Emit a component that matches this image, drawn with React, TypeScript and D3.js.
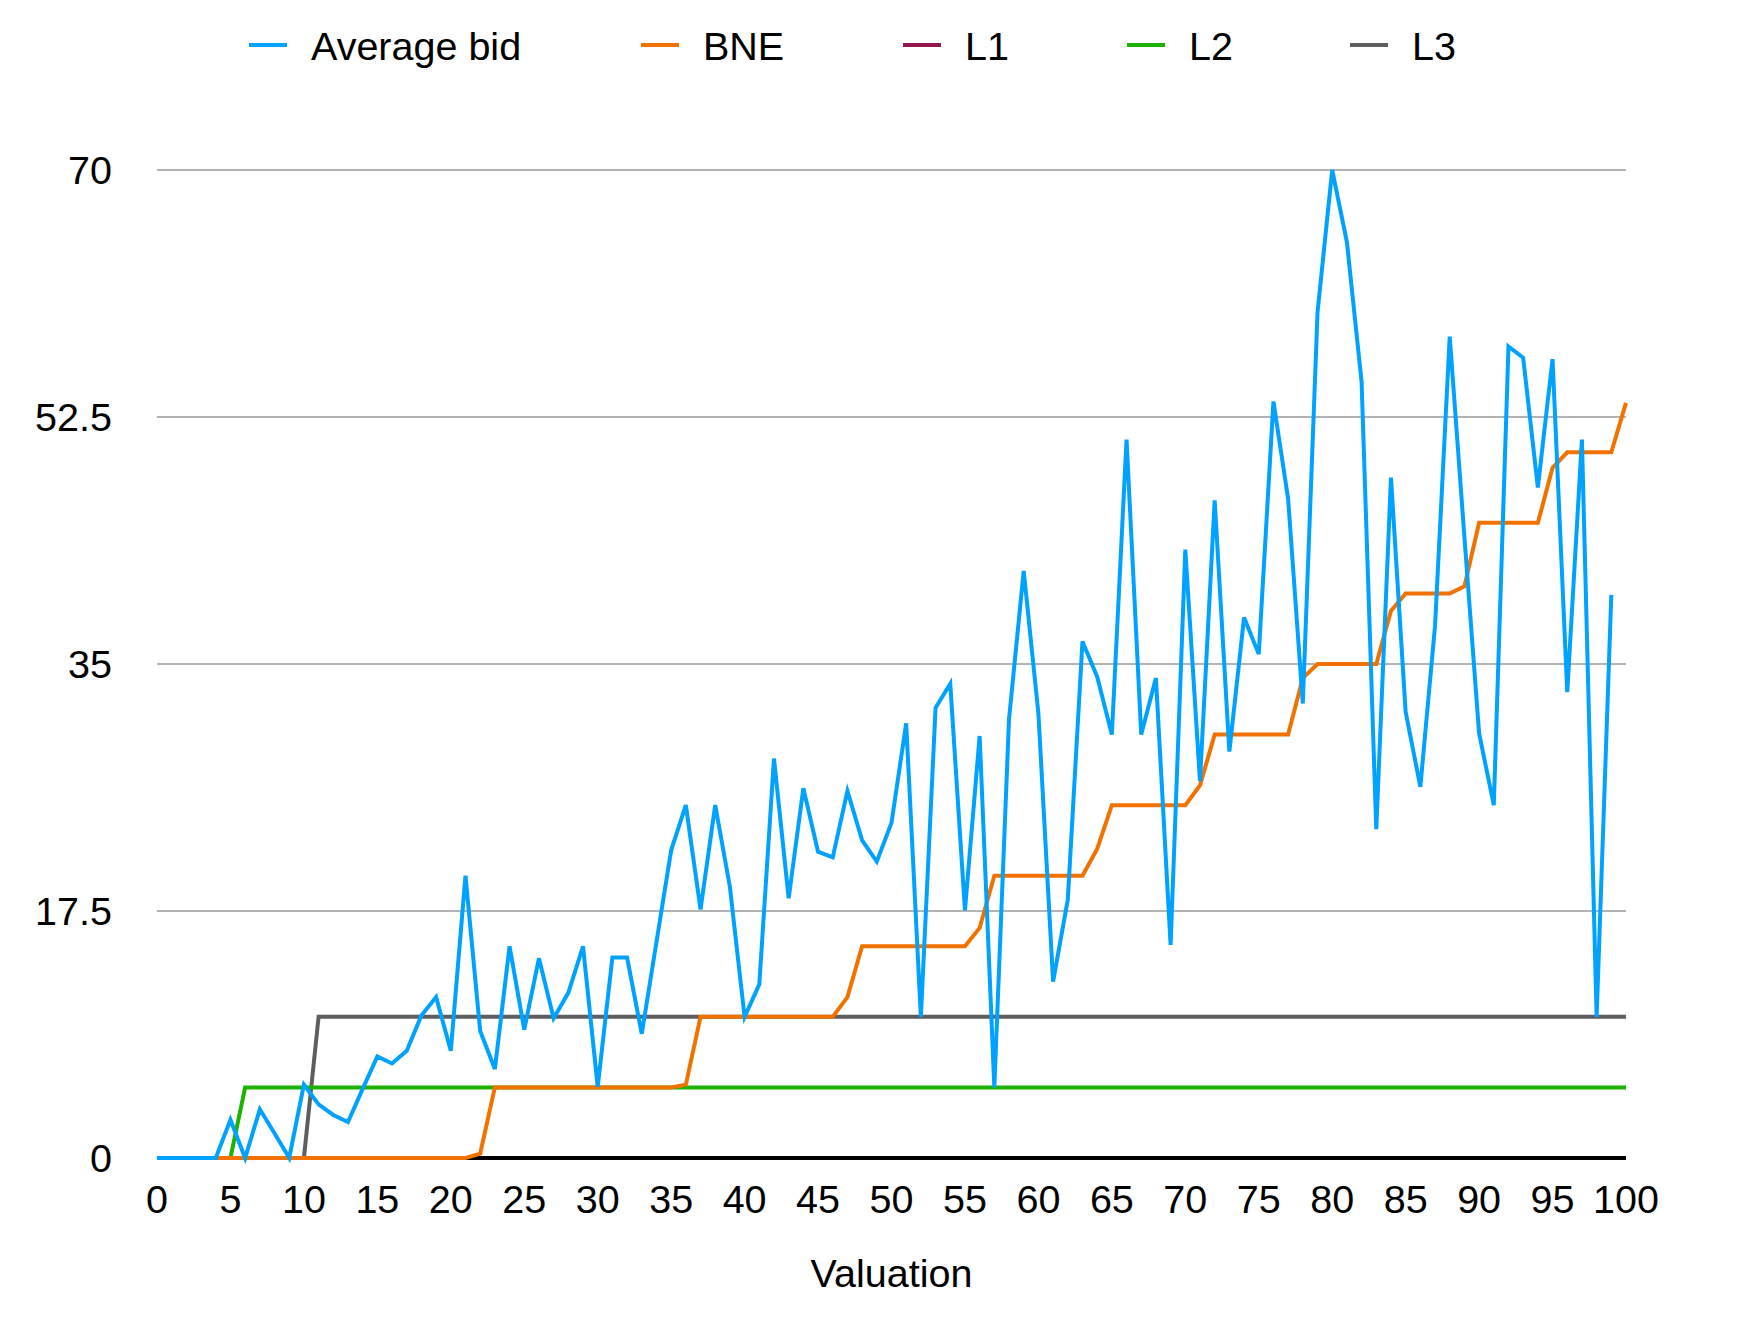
import { scaleLinear, line as d3_line } from "d3";

// Valuation 0..99 -> average bid
const averageBid = [
  0, 0, 0, 0, 0, 2.7, 0, 3.45, 1.75, 0,
  5.2, 3.8, 3.05, 2.55, 4.9, 7.2, 6.7, 7.6, 10.1, 11.4,
  7.6, 20, 9, 6.3, 15, 9.1, 14.15, 9.9, 11.7, 15,
  5.05, 14.2, 14.2, 8.8, 15.3, 21.8, 25, 17.6, 25, 19.2,
  10, 12.3, 28.3, 18.4, 26.2, 21.7, 21.3, 26, 22.5, 21,
  23.75, 30.8, 10, 31.9, 33.6, 17.55, 29.9, 5, 31.1, 41.6,
  31.5, 12.5, 18.3, 36.6, 34.1, 30, 50.9, 30, 34, 15.1,
  43.1, 26.7, 46.6, 28.8, 38.3, 35.7, 53.6, 46.7, 32.2, 59.9,
  70, 64.9, 55, 23.3, 48.2, 31.6, 26.3, 37.7, 58.2, 44,
  30.1, 25, 57.5, 56.7, 47.5, 56.6, 33, 50.9, 10, 39.9,
];

// Valuation 0..100
const bne = [
  0, 0, 0, 0, 0, 0, 0, 0, 0, 0,
  0, 0, 0, 0, 0, 0, 0, 0, 0, 0,
  0, 0, 0.3, 5, 5, 5, 5, 5, 5, 5,
  5, 5, 5, 5, 5, 5, 5.2, 10, 10, 10,
  10, 10, 10, 10, 10, 10, 10, 11.4, 15, 15,
  15, 15, 15, 15, 15, 15, 16.3, 20, 20, 20,
  20, 20, 20, 20, 21.9, 25, 25, 25, 25, 25,
  25, 26.4, 30, 30, 30, 30, 30, 30, 34, 35,
  35, 35, 35, 35, 38.75, 40, 40, 40, 40, 40.5,
  45, 45, 45, 45, 45, 48.9, 50, 50, 50, 50,
  53.5,
];

const l1 = [
  0, 0, 0, 0, 0, 0, 0, 0, 0, 0,
  0, 0, 0, 0, 0, 0, 0, 0, 0, 0,
  0, 0, 0, 0, 0, 0, 0, 0, 0, 0,
  0, 0, 0, 0, 0, 0, 0, 0, 0, 0,
  0, 0, 0, 0, 0, 0, 0, 0, 0, 0,
  0, 0, 0, 0, 0, 0, 0, 0, 0, 0,
  0, 0, 0, 0, 0, 0, 0, 0, 0, 0,
  0, 0, 0, 0, 0, 0, 0, 0, 0, 0,
  0, 0, 0, 0, 0, 0, 0, 0, 0, 0,
  0, 0, 0, 0, 0, 0, 0, 0, 0, 0,
  0,
];

const l2 = [
  0, 0, 0, 0, 0, 0, 5, 5, 5, 5,
  5, 5, 5, 5, 5, 5, 5, 5, 5, 5,
  5, 5, 5, 5, 5, 5, 5, 5, 5, 5,
  5, 5, 5, 5, 5, 5, 5, 5, 5, 5,
  5, 5, 5, 5, 5, 5, 5, 5, 5, 5,
  5, 5, 5, 5, 5, 5, 5, 5, 5, 5,
  5, 5, 5, 5, 5, 5, 5, 5, 5, 5,
  5, 5, 5, 5, 5, 5, 5, 5, 5, 5,
  5, 5, 5, 5, 5, 5, 5, 5, 5, 5,
  5, 5, 5, 5, 5, 5, 5, 5, 5, 5,
  5,
];

const l3 = [
  0, 0, 0, 0, 0, 0, 0, 0, 0, 0,
  0, 10, 10, 10, 10, 10, 10, 10, 10, 10,
  10, 10, 10, 10, 10, 10, 10, 10, 10, 10,
  10, 10, 10, 10, 10, 10, 10, 10, 10, 10,
  10, 10, 10, 10, 10, 10, 10, 10, 10, 10,
  10, 10, 10, 10, 10, 10, 10, 10, 10, 10,
  10, 10, 10, 10, 10, 10, 10, 10, 10, 10,
  10, 10, 10, 10, 10, 10, 10, 10, 10, 10,
  10, 10, 10, 10, 10, 10, 10, 10, 10, 10,
  10, 10, 10, 10, 10, 10, 10, 10, 10, 10,
  10,
];

const xTicks = [0, 5, 10, 15, 20, 25, 30, 35, 40, 45, 50, 55, 60, 65, 70, 75, 80, 85, 90, 95, 100];
const yTicks = [0, 17.5, 35, 52.5, 70];
const gridTicks = [17.5, 35, 52.5, 70];

const seriesNames = ["Average bid", "BNE", "L1", "L2", "L3"];
const seriesColors = ["#00a2ff", "#f27200", "#941751", "#1db100", "#5e5e5e"];
// legend swatch left edges
const legendX = [249, 641, 903, 1127, 1350];

const W = 1758;
const H = 1332;
const FONT = "'Liberation Sans', Arial, Helvetica, sans-serif";
const FS = 39.5;

export default function App() {
  const x = scaleLinear().domain([0, 100]).range([157, 1626]);
  const y = scaleLinear().domain([0, 70]).range([1158, 170]);

  const line = d3_line<number>()
    .x((_, i) => x(i))
    .y((d) => y(d));

  // draw order: bottom first, blue on top
  const drawn = [
    { data: l3, color: seriesColors[4] },
    { data: l2, color: seriesColors[3] },
    { data: bne, color: seriesColors[1] },
    { data: averageBid, color: seriesColors[0] },
  ];

  return (
    <div style={{ position: "absolute", left: 0, top: 0 }}>
      <svg width={W} height={H} style={{ display: "block", background: "#fff" }} fontFamily={FONT}>
        {/* Legend */}
        {seriesNames.map((name, i) => (
          <g key={name}>
            <rect x={legendX[i]} y={43} width={38} height={4} fill={seriesColors[i]} />
            <text x={legendX[i] + 62} y={60} fontSize={FS} fill="#000">
              {name}
            </text>
          </g>
        ))}

        {/* Grid lines */}
        {gridTicks.map((t) => (
          <line key={t} x1={x(0)} x2={x(100)} y1={y(t)} y2={y(t)} stroke="#b3b3b3" strokeWidth={2} />
        ))}

        {/* L1 sits on zero, under the axis line */}
        <path d={line(l1) ?? ""} fill="none" stroke={seriesColors[2]} strokeWidth={4} />

        {/* Zero axis */}
        <line x1={x(0)} x2={x(100)} y1={y(0)} y2={y(0)} stroke="#000" strokeWidth={4} />

        {drawn.map((s, i) => (
          <path key={i} d={line(s.data) ?? ""} fill="none" stroke={s.color} strokeWidth={4} />
        ))}

        {/* Y tick labels */}
        {yTicks.map((t) => (
          <text key={t} x={112} y={y(t)} dy="0.36em" textAnchor="end" fontSize={FS} fill="#000">
            {String(t)}
          </text>
        ))}

        {/* X tick labels */}
        {xTicks.map((t) => (
          <text key={t} x={x(t)} y={1213} textAnchor="middle" fontSize={FS} fill="#000">
            {t}
          </text>
        ))}

        <text x={(x(0) + x(100)) / 2} y={1287} textAnchor="middle" fontSize={FS} fill="#000">
          Valuation
        </text>
      </svg>
    </div>
  );
}
